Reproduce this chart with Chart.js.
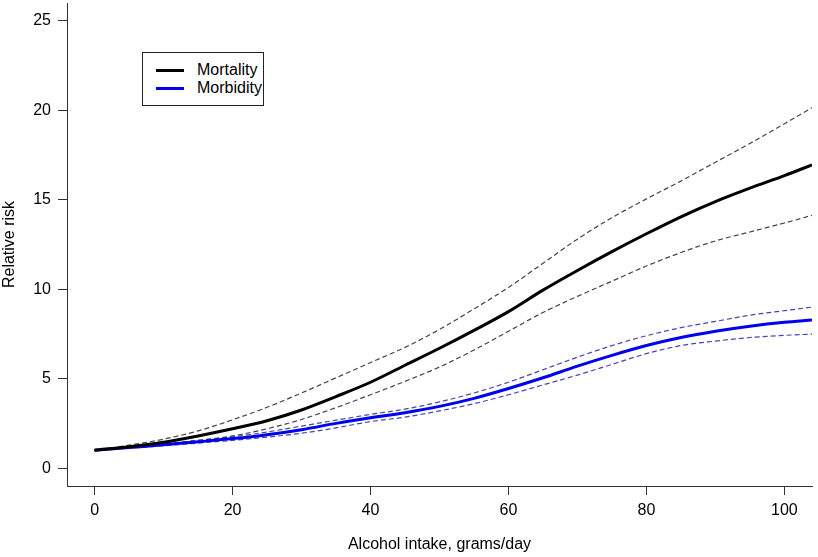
<!DOCTYPE html>
<html>
<head>
<meta charset="utf-8">
<script src="https://cdn.jsdelivr.net/npm/chart.js@4.4.1/dist/chart.umd.min.js"></script>
<style>
  body { margin: 0; background: #fff; }
  #wrap { position: relative; width: 818px; height: 557px; }
  #legend {
    position: absolute; left: 142px; top: 52px; width: 120px; height: 52px;
    border: 1px solid #222; background: #fff;
    font: 16px "Liberation Sans", Arial, sans-serif; color: #000;
  }
  .item { position: absolute; left: 13px; height: 18px; line-height: 18px; }
  .item span.sw { position: absolute; left: 0; top: 8px; width: 28px; height: 3px; }
  .item span.tx { position: absolute; left: 41px; top: 0; white-space: nowrap; }
</style>
</head>
<body>
<div id="wrap">
  <canvas id="chart"></canvas>
  <div id="legend">
    <div class="item" style="top:8px"><span class="sw" style="background:#000"></span><span class="tx">Mortality</span></div>
    <div class="item" style="top:26px"><span class="sw" style="background:#0000ee"></span><span class="tx">Morbidity</span></div>
  </div>
</div>
<script>
// alcohol intake, grams/day
const intake = [0, 5, 10, 15, 20, 25, 30, 35, 40, 45, 50, 55, 60, 65, 70, 75, 80, 85, 90, 95, 100, 104];

// relative risk, mortality + 95% band
const mortality    = [1.0, 1.2, 1.45, 1.8, 2.2, 2.65, 3.25, 4.0, 4.8, 5.75, 6.7, 7.7, 8.75, 9.95, 11.05, 12.1, 13.1, 14.05, 14.9, 15.65, 16.35, 16.95];
const mortalityHi  = [1.0, 1.28, 1.62, 2.08, 2.7, 3.4, 4.2, 5.05, 5.9, 6.75, 7.75, 8.9, 10.1, 11.45, 12.8, 14.0, 15.05, 16.05, 17.1, 18.15, 19.25, 20.15];
const mortalityLo  = [1.0, 1.15, 1.33, 1.55, 1.8, 2.2, 2.72, 3.38, 4.1, 4.85, 5.65, 6.6, 7.65, 8.7, 9.6, 10.45, 11.3, 12.05, 12.7, 13.2, 13.7, 14.13];

// relative risk, morbidity + 95% band
const morbidity    = [1.0, 1.15, 1.3, 1.47, 1.65, 1.87, 2.15, 2.5, 2.82, 3.1, 3.45, 3.9, 4.45, 5.05, 5.7, 6.3, 6.85, 7.3, 7.65, 7.93, 8.15, 8.28];
const morbidityHi  = [1.0, 1.17, 1.35, 1.55, 1.75, 2.02, 2.35, 2.68, 3.0, 3.3, 3.7, 4.2, 4.8, 5.5, 6.2, 6.85, 7.4, 7.85, 8.2, 8.55, 8.8, 9.0];
const morbidityLo  = [1.0, 1.12, 1.25, 1.4, 1.55, 1.73, 1.95, 2.25, 2.6, 2.85, 3.2, 3.6, 4.1, 4.65, 5.2, 5.8, 6.4, 6.85, 7.1, 7.3, 7.42, 7.49];

const xTicks = [0, 20, 40, 60, 80, 100];
const yTicks = [0, 5, 10, 15, 20, 25];

const pts = arr => intake.map((x, i) => ({ x: x, y: arr[i] }));

function solid(data, color) {
  return { data: pts(data), borderColor: color, borderWidth: 3, pointRadius: 0,
           cubicInterpolationMode: 'monotone', order: 0 };
}
function dashed(data, color) {
  return { data: pts(data), borderColor: color, borderWidth: 1.2, borderDash: [5, 3],
           pointRadius: 0, cubicInterpolationMode: 'monotone', order: 1 };
}

Chart.defaults.font.family = '"Liberation Sans", Arial, sans-serif';
Chart.defaults.font.size = 16;
Chart.defaults.color = '#000';

new Chart(document.getElementById('chart'), {
  type: 'line',
  data: {
    datasets: [
      solid(mortality, '#000'),
      dashed(mortalityHi, '#444'),
      dashed(mortalityLo, '#444'),
      solid(morbidity, '#0000ee'),
      dashed(morbidityHi, 'rgba(50,50,170,0.9)'),
      dashed(morbidityLo, 'rgba(50,50,170,0.9)')
    ]
  },
  options: {
    responsive: true,
    maintainAspectRatio: false,
    animation: false,
    layout: { padding: { top: 3, right: 6, left: 0, bottom: 0 } },
    plugins: { legend: { display: false }, tooltip: { enabled: false } },
    scales: {
      x: {
        type: 'linear', min: -4, max: 104,
        border: { display: true, color: '#333', width: 1 },
        grid: { drawOnChartArea: false, drawTicks: true, tickLength: 9, color: '#333' },
        ticks: { padding: 6, autoSkip: false, maxRotation: 0 },
        title: { display: true, text: 'Alcohol intake, grams/day', padding: { top: 0, bottom: 3 } },
        afterBuildTicks: s => { s.ticks = xTicks.map(v => ({ value: v })); },
        afterFit: s => { s.height = 71; s.paddingLeft = 0; s.paddingRight = 0; }
      },
      y: {
        type: 'linear', min: -1, max: 26,
        border: { display: true, color: '#333', width: 1 },
        grid: { drawOnChartArea: false, drawTicks: true, tickLength: 9, color: '#333' },
        ticks: { padding: 7, autoSkip: false },
        title: { display: true, text: 'Relative risk', padding: { top: 0, bottom: 0 } },
        afterBuildTicks: s => { s.ticks = yTicks.map(v => ({ value: v })); },
        afterFit: s => { s.width = 67; s.paddingTop = 0; s.paddingBottom = 0; }
      }
    }
  }
});
</script>
</body>
</html>
